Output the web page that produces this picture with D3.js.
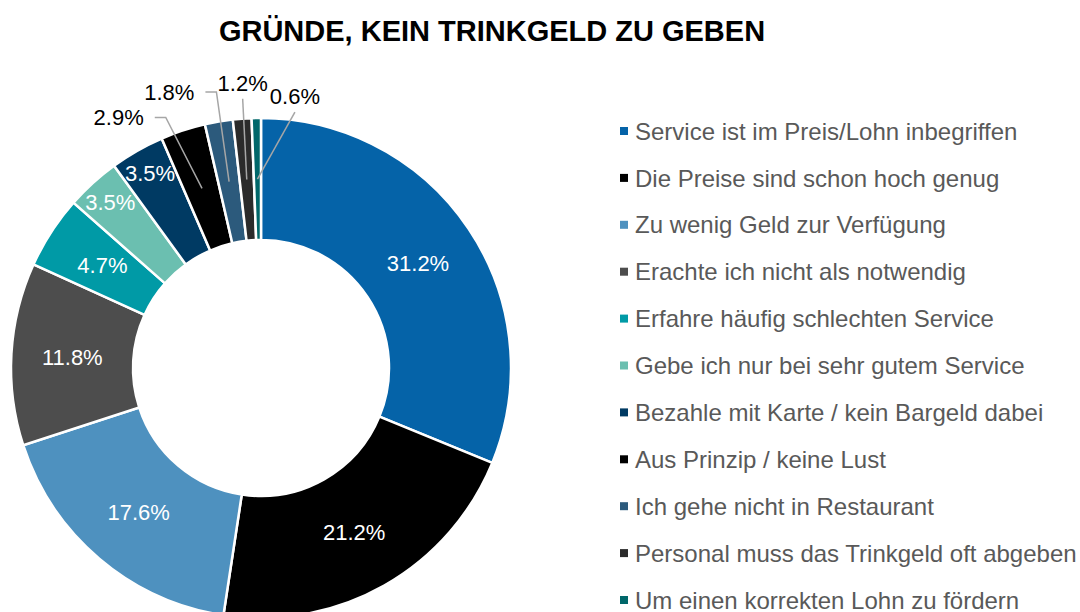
<!DOCTYPE html>
<html>
<head>
<meta charset="utf-8">
<script src="https://cdn.jsdelivr.net/npm/d3@7"></script>
<style>
  html, body { margin: 0; padding: 0; background: #fff; }
  svg { display: block; font-family: "Liberation Sans", Arial, sans-serif; }
</style>
</head>
<body>
<svg id="chart" width="1080" height="612"></svg>
<script>
// data
const categories = [
    "Service ist im Preis/Lohn inbegriffen",
    "Die Preise sind schon hoch genug",
    "Zu wenig Geld zur Verfügung",
    "Erachte ich nicht als notwendig",
    "Erfahre häufig schlechten Service",
    "Gebe ich nur bei sehr gutem Service",
    "Bezahle mit Karte / kein Bargeld dabei",
    "Aus Prinzip / keine Lust",
    "Ich gehe nicht in Restaurant",
    "Personal muss das Trinkgeld oft abgeben",
    "Um einen korrekten Lohn zu fördern"
];
const values = [31.2, 21.2, 17.6, 11.8, 4.7, 3.5, 3.5, 2.9, 1.8, 1.2, 0.6];
const sliceColors = ["#0563a8", "#000000", "#4e91bf", "#4d4d4d", "#009aa6", "#6bbfb0",
                     "#003a63", "#000000", "#2c5a7c", "#2b2b2b", "#00676a"];
const chartTitle = "GRÜNDE, KEIN TRINKGELD ZU GEBEN";

// layout
const cx = 261, cy = 368;
const outerR = 250, innerR = 128;

const svg = d3.select('#chart');

svg.append('text')
    .attr('x', 492)
    .attr('y', 41)
    .attr('text-anchor', 'middle')
    .style('font-size', '29px')
    .style('font-weight', 'bold')
    .style('fill', '#000')
    .text(chartTitle);

const color = d3.scaleOrdinal().domain(categories).range(sliceColors);

const pie = d3.pie().sort(null).value(d => d.value);
const arcs = pie(categories.map((c, i) => ({ name: c, value: values[i] })));

const arc = d3.arc().innerRadius(innerR).outerRadius(outerR);
const midArc = d3.arc().innerRadius((innerR + outerR) / 2).outerRadius((innerR + outerR) / 2);
const wideArc = d3.arc().innerRadius(224).outerRadius(224);
const calloutArc = d3.arc().innerRadius(270).outerRadius(270);

const g = svg.append('g').attr('transform', `translate(${cx},${cy})`);

g.selectAll('path.slice')
    .data(arcs)
    .enter().append('path')
    .attr('class', 'slice')
    .attr('d', arc)
    .attr('fill', d => color(d.data.name))
    .attr('stroke', '#fff')
    .attr('stroke-width', 2.5);

const fmt = v => v.toFixed(1) + '%';

// labels inside the ring
const inside = arcs.filter(d => d.data.value >= 3.5);
g.selectAll('text.inlabel')
    .data(inside)
    .enter().append('text')
    .attr('class', 'inlabel')
    .attr('transform', d => {
        let p = d.data.value < 4 ? wideArc.centroid(d) : midArc.centroid(d);
        return `translate(${p[0]},${p[1]})`;
    })
    .attr('text-anchor', 'middle')
    .attr('dy', '0.36em')
    .style('font-size', '22px')
    .style('fill', '#fff')
    .text(d => fmt(d.data.value));

// callouts for the small slices: nudge of the elbow from the callout arc, and text side
const callouts = [
    { nudge: [-11, 6], side: 'left' },
    { nudge: [1, -10], side: 'left' },
    { nudge: [2, 0], side: 'up' },
    { nudge: [39, 14], side: 'up' }
];
const outside = arcs.filter(d => d.data.value < 3.5);

outside.forEach((d, i) => {
    const c = callouts[i];
    const a = midArc.centroid(d);
    const p = calloutArc.centroid(d);
    const e = [p[0] + c.nudge[0], p[1] + c.nudge[1]];
    let pts = [a, e];
    let tx, ty, anchor;
    if (c.side == 'left') {
        pts.push([e[0] - 11, e[1]]);
        tx = e[0] - 22; ty = e[1]; anchor = 'end';
    } else {
        tx = e[0]; ty = e[1] - 16; anchor = 'middle';
    }
    g.append('path')
        .attr('d', d3.line()(pts))
        .attr('fill', 'none')
        .attr('stroke', '#a6a6a6')
        .attr('stroke-width', 1.5);
    g.append('text')
        .attr('x', tx)
        .attr('y', ty)
        .attr('dy', '0.36em')
        .attr('text-anchor', anchor)
        .style('font-size', '22px')
        .style('fill', '#000')
        .text(fmt(d.data.value));
});

// legend
const legendY = d3.scalePoint().domain(categories).range([131, 600]);
const legend = svg.append('g');
const item = legend.selectAll('g')
    .data(categories)
    .enter().append('g')
    .attr('transform', d => `translate(620,${legendY(d)})`);
item.append('rect')
    .attr('x', 0)
    .attr('y', -4)
    .attr('width', 8)
    .attr('height', 8)
    .attr('fill', d => color(d));
item.append('text')
    .attr('x', 15)
    .attr('dy', '0.36em')
    .style('font-size', '24px')
    .style('fill', '#595959')
    .text(d => d);
</script>
</body>
</html>
